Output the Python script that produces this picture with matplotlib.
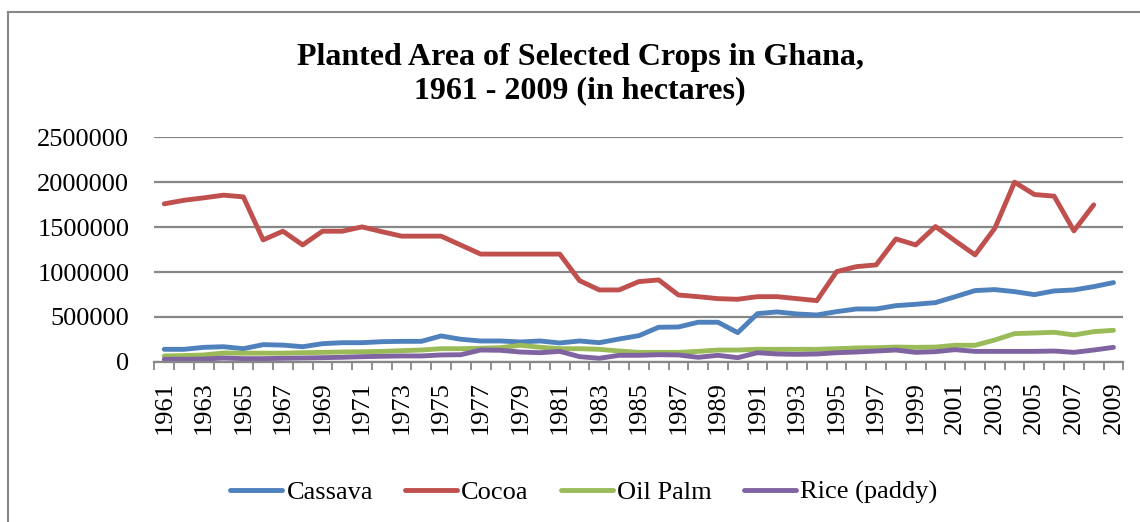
import numpy as np
import matplotlib
matplotlib.use("Agg")
import matplotlib.pyplot as plt
from matplotlib.lines import Line2D

plt.rcParams['font.family'] = ['Liberation Serif', 'DejaVu Serif']

# planted area, hectares
years = list(range(1961, 2010))
cassava = [138000, 138000, 160000, 167000, 145000, 190000, 185000, 167000, 201000, 212000,
           212000, 223000, 227000, 227000, 287000, 250000, 231000,
           231000, 220000, 231000, 209000, 231000, 212000, 253000, 290000, 384000,
           387000, 440000, 440000, 324000, 536000, 555000, 532000, 521000,
           558000, 588000, 588000, 625000, 640000, 659000, 725000, 793000, 804000,
           781000, 748000, 789000, 800000, 837000, 882000]
cocoa = [1760000, 1800000, 1827000, 1857000, 1838000, 1358000, 1455000, 1302000, 1455000, 1455000,
         1503000, 1450000, 1400000, 1400000, 1400000, 1300000, 1200000,
         1200000, 1200000, 1200000, 1200000, 904000, 800000, 800000, 893000, 912000,
         744000, 725000, 703000, 696000, 725000, 725000, 703000, 681000,
         1004000, 1060000, 1079000, 1369000, 1302000, 1507000, 1347000, 1191000, 1488000,
         2002000, 1864000, 1846000, 1459000, 1749000, np.nan]
oil_palm = [64000, 68000, 75000, 97000, 95000, 95000, 95000, 100000, 104000, 108000,
            111000, 115000, 123000, 130000, 145000, 145000, 150000,
            156000, 183000, 161000, 145000, 145000, 138000, 119000, 104000, 104000,
            104000, 115000, 130000, 130000, 138000, 138000, 138000, 138000,
            145000, 153000, 156000, 163000, 160000, 163000, 183000, 183000, 242000,
            313000, 320000, 328000, 298000, 335000, 350000]
rice = [27000, 27000, 30000, 41000, 34000, 34000, 38000, 41000, 45000, 49000,
        56000, 60000, 64000, 64000, 75000, 78000, 130000,
        127000, 108000, 100000, 115000, 56000, 38000, 71000, 71000, 78000,
        75000, 49000, 71000, 45000, 100000, 86000, 82000, 86000,
        100000, 108000, 119000, 130000, 104000, 112000, 134000, 115000, 115000,
        115000, 115000, 119000, 104000, 130000, 160000]

series = [("Cassava", cassava, "#4F81BD"),
          ("Cocoa", cocoa, "#C0504D"),
          ("Oil Palm", oil_palm, "#9BBB59"),
          ("Rice (paddy)", rice, "#8064A2")]

grey = "#878787"
fig = plt.figure(figsize=(11.4, 5.22), dpi=100)
ax = fig.add_axes([0.1354, 0.3071, 0.85, 0.4295])

x = np.arange(len(years))
handles = []
for name, vals, col in series:
    h, = ax.plot(x, vals, color=col, lw=3.5, solid_capstyle='round',
                 solid_joinstyle='round', label=name)
    handles.append(h)

ax.set_xlim(-0.5, len(years) - 0.5)
ax.set_ylim(0, 2500000)
ax.set_yticks(np.arange(0, 2500001, 500000))
ax.set_yticklabels([str(v) for v in range(0, 2500001, 500000)])
ax.yaxis.grid(True, color=grey, lw=1.6)
ax.set_axisbelow(True)

# category ticks sit between the years, labels on every other year
ax.set_xticks(np.arange(-0.5, len(years), 1.0), minor=True)
ax.set_xticks(x[::2])
ax.set_xticklabels([str(y) for y in years[::2]], rotation=90, va='top', ha='center')
ax.tick_params(axis='x', which='minor', length=6, width=1.3, color=grey, direction='out')
ax.tick_params(axis='x', which='major', length=0, pad=14, labelsize=19)
ax.tick_params(axis='y', length=0, pad=18, labelsize=19)

for s in ['left', 'right', 'top']:
    ax.spines[s].set_visible(False)
ax.spines['bottom'].set_color(grey)
ax.spines['bottom'].set_linewidth(1.6)

fig.text(0.509, 0.858, "Planted Area of Selected Crops in Ghana,\n1961 - 2009 (in hectares)",
         ha='center', va='center', fontsize=23, fontweight='bold', linespacing=1.15)

fig.legend(handles=handles, loc='center', bbox_to_anchor=(0.512, 0.057), ncol=4,
           frameon=False, fontsize=19, handlelength=2.0, handletextpad=0.15,
           columnspacing=1.2)

# chart frame
fig.add_artist(Line2D([7.5 / 1140, 1], [1 - 11.7 / 522] * 2, color=grey, lw=1.5))
fig.add_artist(Line2D([7.5 / 1140] * 2, [0, 1 - 11.7 / 522], color=grey, lw=1.5))

fig.savefig("out.png", dpi=100)
